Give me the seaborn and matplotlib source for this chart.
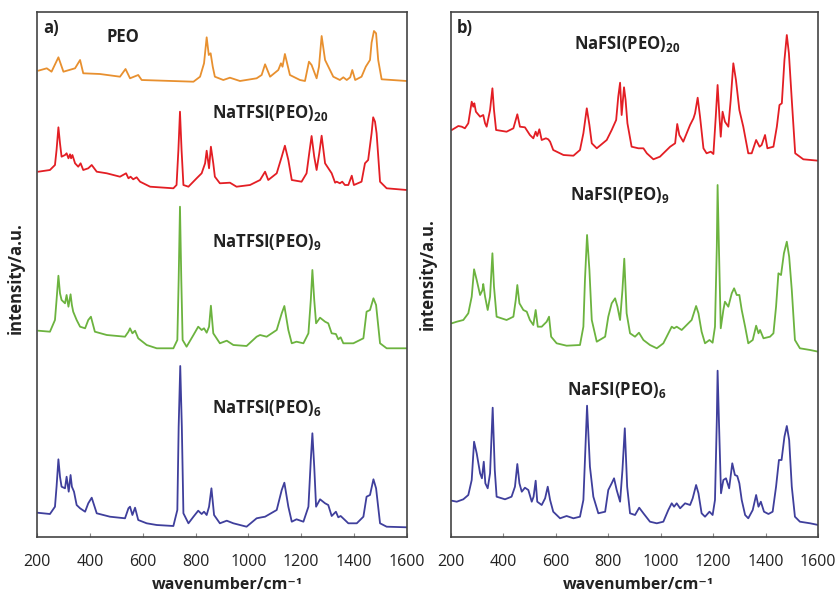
import matplotlib
matplotlib.use("Agg")
import matplotlib.pyplot as plt
import seaborn as sns
import pandas as pd

# ---------------- data ----------------
# panel a) NaTFSI / PEO, stacked Raman spectra (intensity in a.u., offsets included)
peo_wn = [205, 237, 255, 281, 300, 344, 363, 375, 438, 514, 535, 552, 583, 596, 792, 817, 832, 842,
          850, 857, 865, 873, 905, 930, 968, 1031, 1050, 1063, 1082, 1113, 1123, 1129, 1138, 1157,
          1195, 1214, 1229, 1239, 1258, 1267, 1277, 1290, 1321, 1346, 1359, 1372, 1385, 1393, 1404,
          1428, 1444, 1460, 1466, 1475, 1483, 1491, 1504, 1599]
peo_int = [466.3, 468.7, 465.3, 479.7, 465.3, 468.7, 477.0, 463.7, 463.0, 460.3, 468.0, 458.7, 462.0,
           457.0, 455.3, 460.3, 473.7, 499.7, 482.0, 483.7, 470.3, 460.3, 457.0, 459.3, 456.0, 458.7,
           462.0, 472.7, 460.3, 467.0, 473.7, 470.3, 483.0, 462.0, 457.0, 456.0, 475.3, 472.0, 458.7,
           470.3, 501.0, 477.0, 460.3, 457.0, 459.7, 457.0, 459.7, 467.0, 457.0, 460.3, 470.3, 477.0,
           494.3, 506.0, 503.7, 477.0, 457.7, 456.0]

tfsi20_wn = [205, 249, 268, 274, 281, 287, 293, 306, 312, 319, 325, 329, 334, 344, 356, 365, 375, 394,
             407, 426, 464, 514, 537, 546, 554, 564, 577, 590, 628, 716, 728, 735, 741, 747, 754, 773,
             804, 823, 836, 842, 851, 858, 867, 873, 892, 930, 955, 1006, 1044, 1063, 1075, 1107, 1126,
             1138, 1151, 1164, 1201, 1220, 1230, 1239, 1249, 1258, 1268, 1277, 1290, 1315, 1328, 1334,
             1346, 1355, 1365, 1378, 1391, 1399, 1428, 1441, 1453, 1466, 1472, 1479, 1485, 1498, 1523, 1599]
tfsi20_int = [365.3, 367.0, 372.0, 387.0, 409.7, 393.7, 380.3, 382.0, 383.7, 378.7, 382.7, 378.7, 382.0,
              373.7, 370.3, 373.7, 367.0, 368.7, 372.0, 365.3, 363.7, 360.3, 363.7, 358.7, 360.3, 357.7,
              359.7, 355.3, 350.3, 348.7, 352.0, 387.0, 425.3, 387.0, 352.0, 350.3, 358.7, 363.7, 373.7,
              386.3, 368.7, 390.3, 373.7, 360.3, 353.7, 354.3, 350.3, 352.0, 357.0, 365.3, 357.0, 363.7,
              380.3, 391.3, 377.0, 357.0, 355.3, 363.7, 383.7, 401.0, 380.3, 367.0, 383.7, 401.3, 373.7,
              363.7, 354.3, 355.3, 353.7, 355.3, 352.0, 352.0, 361.3, 352.0, 355.3, 373.7, 377.0, 403.7,
              419.7, 415.3, 403.7, 355.3, 348.7, 347.0]

tfsi9_wn = [205, 249, 268, 274, 281, 287, 293, 306, 312, 319, 327, 332, 337, 350, 363, 382, 394, 404,
            419, 464, 533, 546, 552, 561, 571, 583, 615, 653, 716, 731, 736, 741, 746, 751, 766, 792,
            810, 823, 832, 842, 851, 858, 867, 892, 918, 943, 993, 1031, 1044, 1069, 1107, 1126, 1136,
            1151, 1164, 1182, 1208, 1227, 1236, 1242, 1249, 1256, 1271, 1290, 1302, 1315, 1331, 1340,
            1349, 1359, 1397, 1435, 1447, 1460, 1473, 1483, 1498, 1523, 1599]
tfsi9_int = [206.3, 205.3, 217.0, 237.0, 261.3, 243.7, 237.0, 233.7, 242.0, 230.3, 242.7, 232.0, 225.3,
             217.0, 210.3, 208.7, 217.0, 220.3, 205.3, 202.0, 200.3, 205.3, 208.7, 203.7, 206.3, 198.7,
             192.0, 188.7, 188.7, 197.0, 257.0, 330.3, 257.0, 197.0, 190.3, 202.0, 210.3, 207.0, 208.7,
             204.3, 210.3, 231.3, 203.7, 193.7, 196.3, 192.0, 191.0, 200.3, 202.0, 200.3, 207.0, 223.7,
             231.0, 207.0, 193.7, 195.3, 193.7, 203.7, 237.0, 267.0, 237.0, 213.7, 219.3, 215.3, 213.7,
             203.7, 203.0, 197.7, 199.7, 193.7, 193.7, 198.7, 225.3, 227.0, 238.7, 232.0, 193.7, 188.7,
             188.7]

tfsi6_wn = [201, 249, 268, 274, 281, 287, 293, 306, 312, 320, 327, 332, 340, 350, 363, 382, 394, 407,
            426, 476, 533, 546, 552, 561, 571, 583, 615, 653, 716, 731, 736, 742, 748, 754, 773, 792,
            810, 823, 832, 842, 851, 860, 870, 892, 918, 943, 993, 1031, 1050, 1063, 1107, 1126, 1136,
            1151, 1164, 1182, 1208, 1227, 1236, 1242, 1249, 1256, 1271, 1290, 1302, 1315, 1331, 1340,
            1349, 1365, 1378, 1410, 1435, 1447, 1460, 1473, 1483, 1498, 1523, 1599]
tfsi6_int = [24.3, 23.0, 30.3, 50.3, 77.7, 60.3, 50.3, 48.7, 60.3, 45.3, 62.0, 50.3, 45.3, 32.0, 28.7,
             25.3, 33.7, 39.3, 23.7, 20.3, 18.7, 28.7, 30.3, 22.0, 29.3, 17.0, 13.7, 12.0, 11.0, 27.0,
             110.3, 171.0, 110.3, 23.7, 13.7, 20.3, 26.3, 23.0, 25.3, 22.0, 30.3, 48.7, 22.0, 13.7, 16.3,
             13.7, 10.3, 18.7, 19.7, 20.3, 27.0, 47.0, 54.3, 30.3, 15.3, 17.7, 15.3, 30.3, 77.0, 103.7,
             70.3, 30.3, 37.7, 33.7, 32.0, 21.0, 25.3, 19.7, 21.0, 17.0, 13.7, 13.7, 20.3, 40.3, 42.0,
             57.7, 48.7, 13.7, 10.3, 9.7]

# panel b) NaFSI / PEO
fsi20_wn = [203, 228, 241, 253, 266, 272, 279, 285, 289, 295, 311, 323, 330, 336, 349, 358, 364, 372,
            412, 438, 453, 463, 482, 501, 514, 523, 529, 537, 546, 562, 571, 578, 590, 629, 667, 692,
            705, 718, 728, 737, 756, 794, 813, 830, 838, 845, 851, 860, 866, 873, 889, 915, 934, 947,
            972, 997, 1036, 1055, 1063, 1071, 1086, 1112, 1125, 1131, 1141, 1150, 1163, 1175, 1191,
            1201, 1210, 1217, 1224, 1229, 1236, 1245, 1258, 1267, 1277, 1287, 1300, 1315, 1334, 1347,
            1364, 1377, 1385, 1398, 1407, 1430, 1443, 1453, 1462, 1472, 1481, 1489, 1500, 1513, 1544, 1601]
fsi20_int = [407.0, 411.0, 410.3, 408.7, 413.7, 423.7, 435.3, 430.3, 433.7, 425.3, 420.3, 422.0, 413.7,
             410.3, 427.0, 448.7, 427.0, 407.0, 405.3, 408.7, 422.7, 410.3, 409.7, 402.0, 398.7, 405.3,
             401.0, 407.7, 397.0, 398.7, 397.7, 395.3, 387.0, 382.0, 381.3, 387.0, 403.7, 428.7, 412.0,
             393.7, 388.7, 397.0, 407.0, 417.0, 440.3, 454.3, 422.0, 449.7, 437.0, 413.7, 390.3, 388.7,
             388.7, 383.7, 377.7, 380.3, 390.3, 393.7, 413.0, 402.0, 395.3, 412.0, 418.7, 423.7, 439.3,
             420.3, 388.7, 383.7, 385.3, 383.0, 420.3, 452.0, 420.3, 400.3, 425.3, 415.3, 410.3, 437.0,
             473.7, 457.0, 427.0, 410.3, 383.7, 383.7, 397.0, 390.3, 392.0, 402.0, 388.7, 390.3, 410.3,
             432.0, 433.7, 477.0, 502.0, 483.7, 437.0, 383.7, 377.7, 376.3]

fsi9_wn = [203, 222, 247, 266, 279, 288, 298, 311, 320, 323, 330, 340, 349, 358, 364, 374, 412, 438,
           447, 453, 461, 476, 489, 501, 514, 523, 531, 546, 565, 574, 582, 603, 641, 692, 705, 711,
           719, 728, 737, 756, 788, 800, 813, 826, 835, 845, 854, 861, 870, 883, 902, 917, 934, 959,
           985, 1010, 1042, 1051, 1061, 1080, 1099, 1118, 1135, 1144, 1156, 1169, 1186, 1198, 1207,
           1214, 1217, 1222, 1229, 1239, 1245, 1258, 1271, 1280, 1290, 1300, 1309, 1322, 1334, 1351,
           1364, 1373, 1379, 1392, 1417, 1430, 1440, 1449, 1459, 1470, 1481, 1490, 1500, 1512, 1531,
           1570, 1601]
fsi9_int = [213.7, 215.3, 217.0, 223.7, 240.3, 267.7, 257.0, 242.0, 247.0, 253.0, 240.3, 227.0, 240.3,
            283.7, 250.3, 220.3, 217.0, 220.3, 237.0, 252.0, 233.7, 227.0, 225.3, 217.0, 212.0, 227.0,
            210.3, 210.3, 215.3, 220.3, 200.3, 193.7, 191.3, 192.0, 210.3, 257.0, 302.0, 267.0, 217.0,
            195.3, 200.3, 220.3, 233.7, 238.7, 230.3, 217.0, 247.0, 278.3, 223.7, 203.7, 200.3, 204.3,
            197.0, 192.0, 188.7, 193.7, 210.3, 208.7, 210.3, 207.0, 212.0, 217.0, 231.0, 223.7, 205.3,
            193.7, 197.0, 194.3, 210.3, 290.3, 352.0, 290.3, 208.7, 227.0, 235.3, 230.3, 243.7, 248.7,
            242.0, 242.0, 227.0, 210.3, 193.7, 197.0, 211.3, 203.7, 207.0, 198.7, 200.3, 203.7, 230.3,
            263.7, 262.0, 283.7, 295.3, 280.3, 247.0, 197.0, 188.7, 187.0, 185.3]

fsi6_wn = [203, 222, 247, 266, 279, 288, 298, 311, 318, 325, 331, 340, 349, 359, 367, 374, 406, 431,
           444, 453, 461, 470, 482, 495, 508, 515, 523, 529, 546, 559, 569, 578, 590, 616, 641, 667,
           692, 705, 711, 719, 730, 743, 762, 788, 800, 813, 822, 832, 845, 854, 863, 872, 883, 902,
           918, 934, 959, 985, 1010, 1029, 1042, 1051, 1061, 1074, 1093, 1112, 1122, 1135, 1144, 1156,
           1169, 1186, 1198, 1207, 1214, 1217, 1222, 1230, 1239, 1249, 1261, 1273, 1283, 1292, 1300,
           1309, 1322, 1334, 1351, 1364, 1373, 1382, 1394, 1411, 1427, 1440, 1451, 1461, 1472, 1481,
           1490, 1500, 1512, 1531, 1570, 1601]
fsi6_int = [36.3, 35.3, 37.7, 42.0, 57.0, 95.3, 83.7, 63.7, 58.7, 75.3, 53.7, 48.7, 63.7, 129.3, 67.0,
            40.3, 37.7, 40.3, 50.3, 73.0, 53.7, 45.3, 49.3, 47.0, 35.3, 40.3, 56.3, 35.3, 32.0, 38.7,
            50.3, 37.0, 25.3, 18.7, 21.0, 18.7, 20.3, 37.0, 77.0, 131.3, 70.3, 40.3, 23.7, 25.3, 47.0,
            53.7, 58.7, 47.0, 35.3, 67.0, 108.7, 50.3, 23.7, 22.0, 29.3, 23.7, 15.3, 13.7, 15.3, 27.0,
            33.7, 30.3, 33.7, 28.7, 33.7, 32.0, 38.7, 52.0, 43.7, 23.7, 20.3, 25.3, 22.0, 37.0, 117.0,
            166.3, 117.0, 43.7, 57.0, 58.7, 48.7, 73.7, 62.0, 61.0, 53.7, 37.0, 22.0, 18.7, 27.0, 42.0,
            30.3, 35.3, 25.3, 23.0, 25.3, 50.3, 77.0, 77.0, 100.3, 111.0, 97.0, 50.3, 20.3, 15.3, 13.7,
            12.0]

names_a = ["PEO", "NaTFSI(PEO)20", "NaTFSI(PEO)9", "NaTFSI(PEO)6"]
names_b = ["NaFSI(PEO)20", "NaFSI(PEO)9", "NaFSI(PEO)6"]
labels_a = ["PEO", r"NaTFSI(PEO)$_{\mathbf{20}}$", r"NaTFSI(PEO)$_{\mathbf{9}}$", r"NaTFSI(PEO)$_{\mathbf{6}}$"]
labels_b = [r"NaFSI(PEO)$_{\mathbf{20}}$", r"NaFSI(PEO)$_{\mathbf{9}}$", r"NaFSI(PEO)$_{\mathbf{6}}$"]
xticks = [200, 400, 600, 800, 1000, 1200, 1400, 1600]

colors = {"PEO": "#E8902F", "NaTFSI(PEO)20": "#E31E24", "NaTFSI(PEO)9": "#6CB33F",
          "NaTFSI(PEO)6": "#3F3F9C", "NaFSI(PEO)20": "#E31E24", "NaFSI(PEO)9": "#6CB33F",
          "NaFSI(PEO)6": "#3F3F9C"}

# ---------------- build tables ----------------
def frame(names, wns, ints):
    parts = []
    for n, w, i in zip(names, wns, ints):
        parts.append(pd.DataFrame({"wavenumber": w, "intensity": i, "sample": n}))
    return pd.concat(parts, ignore_index=True)

df_a = frame(names_a, [peo_wn, tfsi20_wn, tfsi9_wn, tfsi6_wn], [peo_int, tfsi20_int, tfsi9_int, tfsi6_int])
df_b = frame(names_b, [fsi20_wn, fsi9_wn, fsi6_wn], [fsi20_int, fsi9_int, fsi6_int])

# ---------------- style ----------------
sns.set_theme(style="white")
plt.rcParams["font.family"] = ["Open Sans", "DejaVu Sans"]
plt.rcParams["mathtext.fontset"] = "custom"
plt.rcParams["mathtext.rm"] = "Open Sans"
plt.rcParams["mathtext.bf"] = "Open Sans:bold"

W, H = 839, 596
fig = plt.figure(figsize=(W / 100, H / 100), dpi=100)
ax_a = fig.add_axes([37 / W, 1 - 537 / H, 370 / W, 525 / H])
ax_b = fig.add_axes([451 / W, 1 - 537 / H, 367 / W, 525 / H])

for ax, df, names in [(ax_a, df_a, names_a), (ax_b, df_b, names_b)]:
    sns.lineplot(data=df, x="wavenumber", y="intensity", hue="sample", hue_order=names,
                 palette=colors, estimator=None, sort=False, legend=False, lw=1.3, ax=ax)
    ax.set_xlim(200, 1600)
    ax.set_ylim(0, 525)
    ax.set_xticks(xticks)
    ax.set_xticklabels([str(t) for t in xticks], fontsize=11.5, color="#222222")
    ax.set_yticks([])
    ax.tick_params(axis="x", direction="in", length=3, width=0.8, color="#888888", pad=12, bottom=True)
    for s in ax.spines.values():
        s.set_color("#444444")
        s.set_linewidth(1.2)
    ax.set_xlabel("wavenumber/cm\u207b\u00b9", fontsize=11.5, fontweight="bold", color="#222222")
    ax.set_ylabel("intensity/a.u.", fontsize=12, fontweight="bold", color="#222222")

ax_a.xaxis.set_label_coords(0.514, -0.077)
ax_b.xaxis.set_label_coords(0.51, -0.077)
ax_a.yaxis.set_label_coords(-0.032, 0.493)
ax_b.yaxis.set_label_coords(-0.038, 0.50)

tkw = dict(fontsize=12, fontweight="bold", color="#222222", ha="left", va="center")
ax_a.text(0.016, 0.970, "a)", transform=ax_a.transAxes, **tkw)
ax_b.text(0.016, 0.970, "b)", transform=ax_b.transAxes, **tkw)
for lab, (x, y) in zip(labels_a, [(0.189, 0.952), (0.474, 0.807), (0.474, 0.562), (0.474, 0.246)]):
    ax_a.text(x, y, lab, transform=ax_a.transAxes, **tkw)
for lab, (x, y) in zip(labels_b, [(0.335, 0.939), (0.324, 0.651), (0.316, 0.280)]):
    ax_b.text(x, y, lab, transform=ax_b.transAxes, **tkw)

fig.savefig("out.png", dpi=100, facecolor="white")
